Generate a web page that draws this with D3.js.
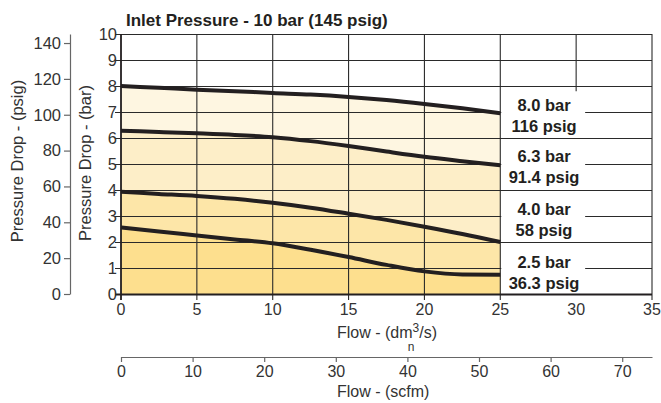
<!DOCTYPE html>
<html>
<head>
<meta charset="utf-8">
<script src="https://cdn.jsdelivr.net/npm/d3@7"></script>
<style>
  html, body { margin: 0; padding: 0; background: #fff; }
  svg { display: block; font-family: "Liberation Sans", Arial, Helvetica, sans-serif; }
</style>
</head>
<body>
<svg id="chart" width="661" height="403"></svg>
<script>
// ---- data ----
const title = "Inlet Pressure - 10 bar (145 psig)";
const flow = [0, 2.5, 5, 7.5, 10, 12.5, 15, 17.5, 20, 22.5, 25];           // dm3n/s
const drop80 = [8.0, 7.93, 7.86, 7.80, 7.73, 7.67, 7.58, 7.46, 7.31, 7.14, 6.95];
const drop63 = [6.28, 6.23, 6.18, 6.12, 6.03, 5.88, 5.69, 5.48, 5.28, 5.11, 4.95];
const drop40 = [3.93, 3.85, 3.77, 3.66, 3.51, 3.32, 3.09, 2.85, 2.59, 2.31, 2.0];
const drop25 = [2.56, 2.40, 2.25, 2.10, 1.95, 1.70, 1.42, 1.12, 0.87, 0.75, 0.74];
const seriesBar = ["8.0 bar", "6.3 bar", "4.0 bar", "2.5 bar"];
const seriesPsig = ["116 psig", "91.4 psig", "58 psig", "36.3 psig"];
const flowTicks = [0, 5, 10, 15, 20, 25, 30, 35];
const barTicks = [0, 1, 2, 3, 4, 5, 6, 7, 8, 9, 10];
const psigTicks = [0, 20, 40, 60, 80, 100, 120, 140];
const scfmTicks = [0, 10, 20, 30, 40, 50, 60, 70];
const BAR_TO_PSIG = 14.5038;
const DM3S_TO_SCFM = 2.11888;

// ---- layout ----
const svg = d3.select("#chart");
const X0 = 121, X1 = 652, Y0 = 294, Y1 = 34;
const x = d3.scaleLinear().domain([0, 35]).range([X0, X1]);
const y = d3.scaleLinear().domain([0, 10]).range([Y0, Y1]);
const yPsig = d3.scaleLinear().domain([0, 10 * BAR_TO_PSIG]).range([Y0, Y1]);
const xScfm = d3.scaleLinear().domain([0, 35 * DM3S_TO_SCFM]).range([X0, X1]);

const fills = ["#fef6e1", "#fdeec8", "#fde6a8", "#fddf8e"];
const curves = [drop80, drop63, drop40, drop25];
const ink = "#231f20";

// fills (stacked from top curve down)
const area = d3.area().x((d, i) => x(flow[i])).y0(y(0)).y1(d => y(d)).curve(d3.curveMonotoneX);
curves.forEach((c, k) => {
  svg.append("path").attr("d", area(c)).attr("fill", fills[k]);
});

// grid
const grid = svg.append("g").attr("stroke", "#2a2a2a").attr("stroke-width", 1.1);
barTicks.forEach(v => {
  grid.append("line").attr("x1", X0 - 6).attr("x2", X1)
    .attr("y1", y(v) + 0.5).attr("y2", y(v) + 0.5);
});
flowTicks.forEach(v => {
  grid.append("line").attr("x1", x(v)).attr("x2", x(v))
    .attr("y1", Y1).attr("y2", v === 30 ? Y1 : Y0 + 6);
});

// white label panel
const panelTop = y(7.8);
svg.append("rect").attr("x", x(25) + 1).attr("y", panelTop)
  .attr("width", x(30) + 9 - x(25) - 1).attr("height", Y0 - panelTop).attr("fill", "#fff");
// vertical 30 line above panel
svg.append("line").attr("x1", x(30)).attr("x2", x(30)).attr("y1", Y1).attr("y2", panelTop)
  .attr("stroke", "#2a2a2a").attr("stroke-width", 1.1);
// gridlines through the panel: even values fully, odd values only right part
barTicks.filter(v => v < 8).forEach(v => {
  if (v % 2 === 0) {
    svg.append("line").attr("x1", x(25)).attr("x2", X1).attr("y1", y(v) + 0.5).attr("y2", y(v) + 0.5)
      .attr("stroke", "#2a2a2a").attr("stroke-width", 1.1);
  }
});

// main axes lines
svg.append("line").attr("x1", X0).attr("x2", X0).attr("y1", Y1).attr("y2", Y0 + 6)
  .attr("stroke", ink).attr("stroke-width", 1.6);
svg.append("line").attr("x1", X0 - 6).attr("x2", X1).attr("y1", Y0 + 0.5).attr("y2", Y0 + 0.5)
  .attr("stroke", ink).attr("stroke-width", 2);

// curves
const line = d3.line().x((d, i) => x(flow[i])).y(d => y(d)).curve(d3.curveMonotoneX);
curves.forEach(c => {
  svg.append("path").attr("d", line(c)).attr("fill", "none")
    .attr("stroke", ink).attr("stroke-width", 4);
});

// bar tick labels
svg.append("g").selectAll("text").data(barTicks).join("text")
  .attr("x", X0 - 4).attr("y", d => y(d) + 6).attr("text-anchor", "end")
  .attr("font-size", 16.5).attr("fill", "#333").text(d => d);

// flow tick labels
svg.append("g").selectAll("text").data(flowTicks).join("text")
  .attr("x", d => x(d)).attr("y", 315).attr("text-anchor", "middle")
  .attr("font-size", 16).attr("fill", "#333").text(d => d);

// psig axis
const psigAxis = d3.axisLeft(yPsig).tickValues(psigTicks).tickSize(6).tickSizeOuter(0).tickPadding(3);
const gP = svg.append("g").attr("transform", "translate(70,0)").call(psigAxis);
gP.select(".domain").attr("stroke", "#666").attr("stroke-width", 1.2);
gP.selectAll(".tick line").attr("stroke", "#666").attr("stroke-width", 1.2);
gP.selectAll(".tick text").attr("font-size", 16.5).attr("fill", "#333")
  .attr("font-family", "Liberation Sans, Arial, sans-serif");

// scfm axis
const scfmAxis = d3.axisBottom(xScfm).tickValues(scfmTicks).tickSize(5).tickSizeOuter(0).tickPadding(4);
const gS = svg.append("g").attr("transform", "translate(0,357)").call(scfmAxis);
gS.select(".domain").attr("stroke", "#666").attr("stroke-width", 1.2);
gS.selectAll(".tick line").attr("stroke", "#666").attr("stroke-width", 1.2);
gS.selectAll(".tick text").attr("font-size", 16).attr("fill", "#333")
  .attr("font-family", "Liberation Sans, Arial, sans-serif");

// title
svg.append("text").attr("x", 126).attr("y", 26).attr("font-size", 17).attr("font-weight", "bold")
  .attr("fill", ink).text(title);

// series labels
const labelY = [7.05, 5.07, 3.03, 1.0];
seriesBar.forEach((s, k) => {
  svg.append("text").attr("x", 544).attr("y", y(labelY[k])).attr("text-anchor", "middle")
    .attr("font-size", 16.5).attr("font-weight", "bold").attr("fill", ink).text(s);
  svg.append("text").attr("x", 544).attr("y", y(labelY[k]) + 21).attr("text-anchor", "middle")
    .attr("font-size", 16.5).attr("font-weight", "bold").attr("fill", ink).text(seriesPsig[k]);
});

// axis titles
svg.append("text").attr("transform", "translate(23,161) rotate(-90)").attr("text-anchor", "middle")
  .attr("font-size", 16.5).attr("fill", "#333").text("Pressure Drop - (psig)");
svg.append("text").attr("transform", "translate(91,163) rotate(-90)").attr("text-anchor", "middle")
  .attr("font-size", 16.5).attr("fill", "#333").text("Pressure Drop - (bar)");

const ft = svg.append("text").attr("x", 337).attr("y", 338).attr("font-size", 16).attr("fill", "#333");
ft.append("tspan").text("Flow - (dm");
ft.append("tspan").attr("dy", -6).attr("font-size", 12).text("3");
ft.append("tspan").attr("dy", 6).text("/s)");
svg.append("text").attr("x", 411).attr("y", 351).attr("text-anchor", "middle")
  .attr("font-size", 12).attr("fill", "#333").text("n");

svg.append("text").attr("x", 337).attr("y", 397).attr("font-size", 16).attr("fill", "#333")
  .text("Flow - (scfm)");
</script>
</body>
</html>
